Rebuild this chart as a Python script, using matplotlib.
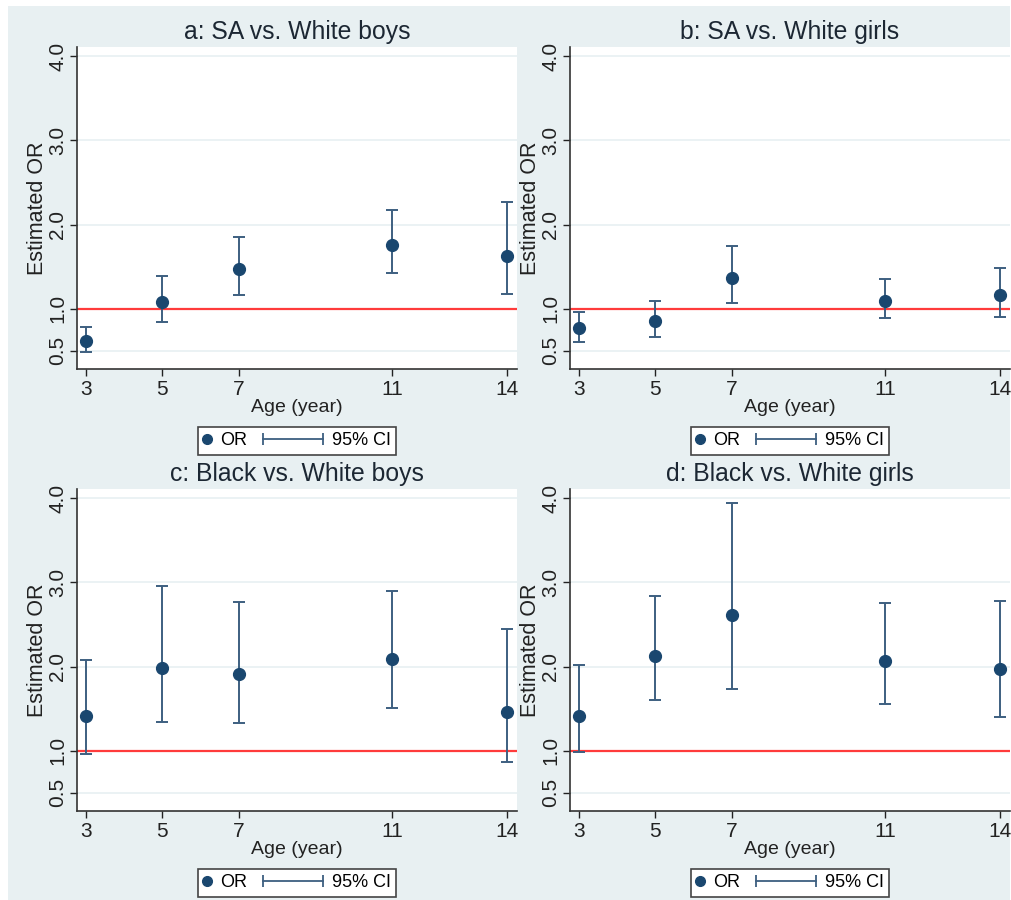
import matplotlib
matplotlib.use("Agg")
import matplotlib.pyplot as plt
from matplotlib.lines import Line2D
from matplotlib.patches import Rectangle
from matplotlib.legend_handler import HandlerBase, HandlerLine2D

plt.rcParams['font.family'] = ['Liberation Sans', 'DejaVu Sans']

# ages and odds ratios
ages = [3, 5, 7, 11, 14]
titles = ['a: SA vs. White boys', 'b: SA vs. White girls',
          'c: Black vs. White boys', 'd: Black vs. White girls']

or_a = [0.62, 1.075, 1.47, 1.76, 1.63]
lo_a = [0.49, 0.84, 1.16, 1.43, 1.18]
hi_a = [0.78, 1.39, 1.85, 2.17, 2.27]

or_b = [0.77, 0.855, 1.37, 1.095, 1.16]
lo_b = [0.61, 0.67, 1.07, 0.885, 0.90]
hi_b = [0.965, 1.09, 1.75, 1.36, 1.49]

or_c = [1.41, 1.98, 1.91, 2.09, 1.46]
lo_c = [0.96, 1.34, 1.33, 1.51, 0.87]
hi_c = [2.075, 2.96, 2.77, 2.90, 2.45]

or_d = [1.41, 2.13, 2.61, 2.07, 1.97]
lo_d = [0.99, 1.60, 1.73, 1.56, 1.40]
hi_d = [2.02, 2.84, 3.94, 2.75, 2.78]

yticks = [0.5, 1.0, 2.0, 3.0, 4.0]

NAVY = '#1a476f'
CAPC = '#3d5f80'
BG = '#e8f0f2'
TXT = '#1c2733'


class CapLineHandler(HandlerBase):
    # horizontal capped line that reaches left past the (short) handle box
    def __init__(self, length=3.0, **kw):
        super().__init__(**kw)
        self.length = length

    def create_artists(self, legend, orig_handle, xdescent, ydescent,
                       width, height, fontsize, trans):
        y = height / 2 - ydescent
        x1 = width - xdescent
        x0 = x1 - self.length * fontsize
        ln = Line2D([x0, x1], [y, y], color=CAPC, lw=1.3, marker='|',
                    markersize=9, markeredgewidth=1.3, transform=trans)
        return [ln]


fig = plt.figure(figsize=(10.11, 9.0), dpi=100)
fig.patch.set_facecolor('white')
fig.patches.append(Rectangle((8 / 1011, 0), 1 - 9 / 1011, 1 - 6 / 900,
                             transform=fig.transFigure, facecolor=BG,
                             edgecolor='none', zorder=-10))

lefts = [77, 570]
tops = [47, 489]
w_px, h_px = 440, 322
data = [(or_a, lo_a, hi_a), (or_b, lo_b, hi_b),
        (or_c, lo_c, hi_c), (or_d, lo_d, hi_d)]

for i, (vals, lo, hi) in enumerate(data):
    l = lefts[i % 2] / 1011
    b = 1 - (tops[i // 2] + h_px) / 900
    ax = fig.add_axes([l, b, w_px / 1011, h_px / 900])
    ax.set_facecolor('white')

    for yv in yticks:
        ax.axhline(yv, color='#e8f0f2', lw=1.2, zorder=0)
    ax.axhline(1.0, color='#ff3b3b', lw=1.6, zorder=1)

    ax.errorbar(ages, vals, yerr=[[v - q for v, q in zip(vals, lo)],
                                  [q - v for v, q in zip(vals, hi)]],
                fmt='none', ecolor=CAPC, elinewidth=1.4, capsize=4,
                capthick=1.4, zorder=2)
    ax.plot(ages, vals, 'o', color=NAVY, ms=8.5, zorder=3)

    ax.set_xlim(2.77, 14.27)
    ax.set_ylim(0.285, 4.11)
    ax.set_xticks(ages)
    ax.set_yticks(yticks)
    ax.set_yticklabels(['%.1f' % t for t in yticks], rotation=90, va='center')
    ax.tick_params(axis='both', labelsize=15, colors='#222222',
                   length=5, width=1, direction='out')
    ax.tick_params(axis='x', pad=3)
    ax.tick_params(axis='y', pad=2)
    for s in ('top', 'right'):
        ax.spines[s].set_visible(False)
    for s in ('left', 'bottom'):
        ax.spines[s].set_color('#333333')
        ax.spines[s].set_linewidth(1.2)

    ax.set_title(titles[i], fontsize=17.8, color=TXT, pad=6)
    ax.set_xlabel('Age (year)', fontsize=14, color='#222222', labelpad=0)
    ax.set_ylabel('Estimated OR', fontsize=15.5, color='#222222', labelpad=0)

    dot = Line2D([], [], ls='none', marker='o', color=NAVY, ms=7)
    ci = Line2D([], [], color=CAPC)
    leg = ax.legend([dot, ci], ['OR', '95% CI'], ncol=2, loc='center',
                    bbox_to_anchor=(0.5, -0.223), fontsize=13,
                    handlelength=0.4, handletextpad=0.5, columnspacing=3.8,
                    borderpad=0.3, fancybox=False, framealpha=1,
                    edgecolor='#444444',
                    handler_map={dot: HandlerLine2D(numpoints=1),
                                 ci: CapLineHandler(length=3.3)})
    leg.get_frame().set_linewidth(1.2)

fig.savefig('out.png', dpi=100, facecolor=fig.get_facecolor())
